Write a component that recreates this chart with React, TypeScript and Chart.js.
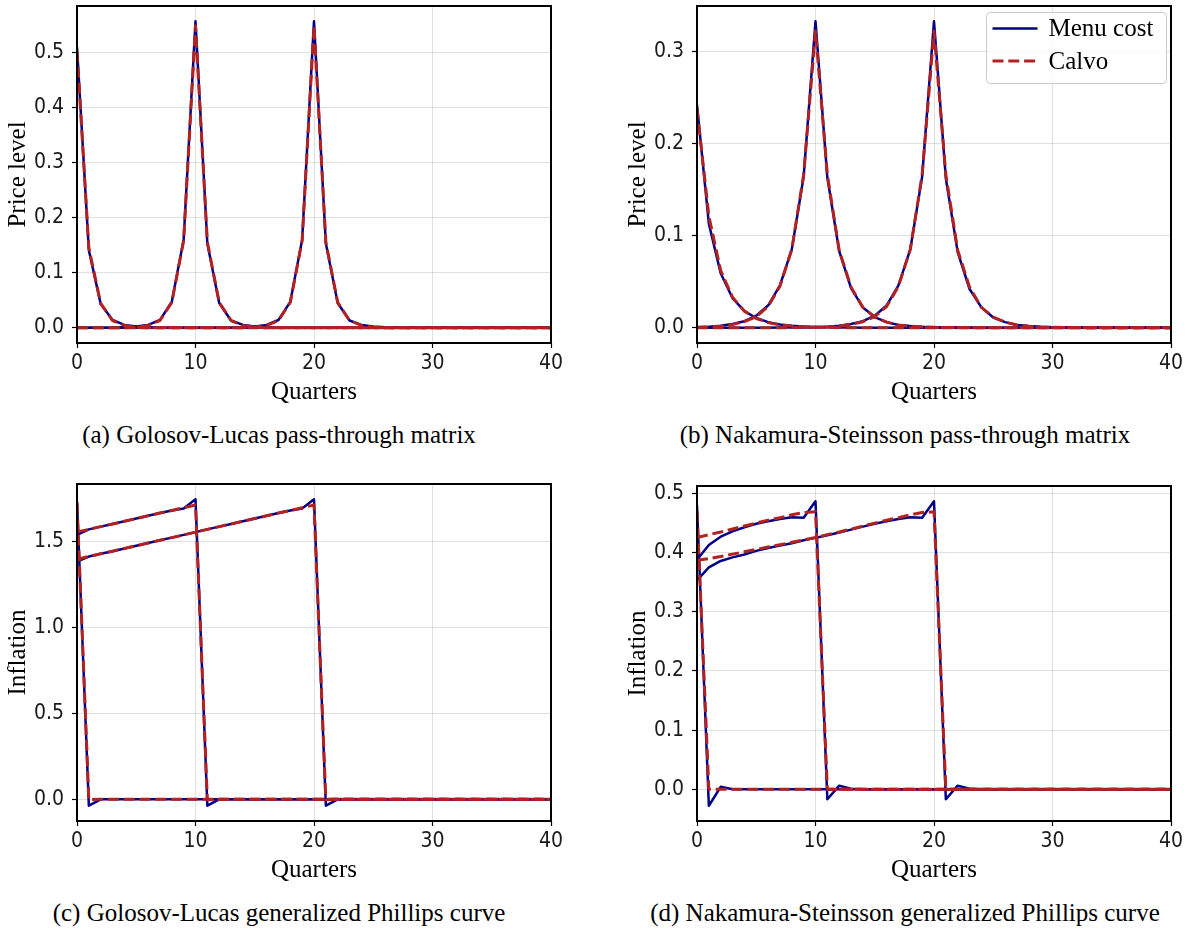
import React, { useEffect, useRef } from 'react';
import { Chart, registerables } from 'chart.js';

Chart.register(...registerables);

// Quarters 0..40
const QUARTERS = [
  0, 1, 2, 3, 4, 5, 6, 7, 8, 9,
  10, 11, 12, 13, 14, 15, 16, 17, 18, 19,
  20, 21, 22, 23, 24, 25, 26, 27, 28, 29,
  30, 31, 32, 33, 34, 35, 36, 37, 38, 39,
  40,
];
const X_TICK_STEP = 10;
const SERIES_LABELS = ['Menu cost', 'Calvo'];

// (a) Golosov-Lucas pass-through matrix — columns for shocks at 0, 10, 20
const GL_PT_MENU_0 = [
  0.510, 0.141, 0.043, 0.014, 0.005, 0.002, 0.001, 0, 0, 0,
  0, 0, 0, 0, 0, 0, 0, 0, 0, 0,
  0, 0, 0, 0, 0, 0, 0, 0, 0, 0,
  0, 0, 0, 0, 0, 0, 0, 0, 0, 0,
  0,
];
const GL_PT_MENU_10 = [
  0, 0, 0, 0, 0.001, 0.002, 0.005, 0.014, 0.047, 0.160,
  0.557, 0.153, 0.045, 0.013, 0.005, 0.002, 0.001, 0, 0, 0,
  0, 0, 0, 0, 0, 0, 0, 0, 0, 0,
  0, 0, 0, 0, 0, 0, 0, 0, 0, 0,
  0,
];
const GL_PT_MENU_20 = [
  0, 0, 0, 0, 0, 0, 0, 0, 0, 0,
  0, 0, 0, 0, 0.001, 0.002, 0.005, 0.014, 0.047, 0.160,
  0.557, 0.153, 0.045, 0.013, 0.005, 0.002, 0.001, 0, 0, 0,
  0, 0, 0, 0, 0, 0, 0, 0, 0, 0,
  0,
];
const GL_PT_CALVO_0 = [
  0.503, 0.145, 0.044, 0.013, 0.004, 0.001, 0, 0, 0, 0,
  0, 0, 0, 0, 0, 0, 0, 0, 0, 0,
  0, 0, 0, 0, 0, 0, 0, 0, 0, 0,
  0, 0, 0, 0, 0, 0, 0, 0, 0, 0,
  0,
];
const GL_PT_CALVO_10 = [
  0, 0, 0, 0, 0, 0.001, 0.004, 0.013, 0.046, 0.158,
  0.549, 0.156, 0.046, 0.013, 0.004, 0.001, 0, 0, 0, 0,
  0, 0, 0, 0, 0, 0, 0, 0, 0, 0,
  0, 0, 0, 0, 0, 0, 0, 0, 0, 0,
  0,
];
const GL_PT_CALVO_20 = [
  0, 0, 0, 0, 0, 0, 0, 0, 0, 0,
  0, 0, 0, 0, 0, 0.001, 0.004, 0.013, 0.046, 0.158,
  0.549, 0.156, 0.046, 0.013, 0.004, 0.001, 0, 0, 0, 0,
  0, 0, 0, 0, 0, 0, 0, 0, 0, 0,
  0,
];

// (b) Nakamura-Steinsson pass-through matrix
const NS_PT_MENU_0 = [
  0.242, 0.113, 0.059, 0.032, 0.018, 0.0105, 0.006, 0.0035, 0.002, 0.0012,
  0.0007, 0.0004, 0.0002, 0.0001, 0, 0, 0, 0, 0, 0,
  0, 0, 0, 0, 0, 0, 0, 0, 0, 0,
  0, 0, 0, 0, 0, 0, 0, 0, 0, 0,
  0,
];
const NS_PT_MENU_10 = [
  0.0005, 0.001, 0.002, 0.004, 0.007, 0.013, 0.024, 0.046, 0.085, 0.164,
  0.3326, 0.163, 0.083, 0.043, 0.022, 0.0115, 0.006, 0.003, 0.0018, 0.001,
  0.0006, 0.0003, 0.0002, 0.0001, 0, 0, 0, 0, 0, 0,
  0, 0, 0, 0, 0, 0, 0, 0, 0, 0,
  0,
];
const NS_PT_MENU_20 = [
  0, 0, 0, 0, 0, 0, 0, 0.0001, 0.0002, 0.0003,
  0.0005, 0.001, 0.002, 0.004, 0.007, 0.013, 0.024, 0.046, 0.085, 0.164,
  0.3326, 0.162, 0.082, 0.042, 0.022, 0.011, 0.006, 0.003, 0.0018, 0.001,
  0.0006, 0.0003, 0.0002, 0.0001, 0, 0, 0, 0, 0, 0,
  0,
];
const NS_PT_CALVO_0 = [
  0.238, 0.121, 0.062, 0.033, 0.018, 0.010, 0.0055, 0.003, 0.0017, 0.001,
  0.0005, 0.0003, 0.0001, 0, 0, 0, 0, 0, 0, 0,
  0, 0, 0, 0, 0, 0, 0, 0, 0, 0,
  0, 0, 0, 0, 0, 0, 0, 0, 0, 0,
  0,
];
const NS_PT_CALVO_10 = [
  0.0004, 0.0008, 0.0016, 0.0035, 0.0065, 0.012, 0.023, 0.045, 0.085, 0.166,
  0.322, 0.166, 0.084, 0.044, 0.022, 0.0115, 0.006, 0.003, 0.0016, 0.0008,
  0.0004, 0.0002, 0.0001, 0, 0, 0, 0, 0, 0, 0,
  0, 0, 0, 0, 0, 0, 0, 0, 0, 0,
  0,
];
const NS_PT_CALVO_20 = [
  0, 0, 0, 0, 0, 0, 0, 0, 0.0001, 0.0002,
  0.0004, 0.0008, 0.0016, 0.0035, 0.0065, 0.012, 0.023, 0.045, 0.085, 0.166,
  0.322, 0.166, 0.084, 0.044, 0.022, 0.0115, 0.006, 0.003, 0.0016, 0.0008,
  0.0004, 0.0002, 0.0001, 0, 0, 0, 0, 0, 0, 0,
  0,
];

// (c) Golosov-Lucas generalized Phillips curve
const GL_PC_MENU_0 = [
  1.733, -0.037, 0, 0, 0, 0, 0, 0, 0, 0,
  0, 0, 0, 0, 0, 0, 0, 0, 0, 0,
  0, 0, 0, 0, 0, 0, 0, 0, 0, 0,
  0, 0, 0, 0, 0, 0, 0, 0, 0, 0,
  0,
];
const GL_PC_MENU_10 = [
  1.539, 1.571, 1.587, 1.602, 1.618, 1.634, 1.650, 1.666, 1.681, 1.692,
  1.746, -0.037, 0, 0, 0, 0, 0, 0, 0, 0,
  0, 0, 0, 0, 0, 0, 0, 0, 0, 0,
  0, 0, 0, 0, 0, 0, 0, 0, 0, 0,
  0,
];
const GL_PC_MENU_20 = [
  1.384, 1.413, 1.429, 1.444, 1.460, 1.476, 1.492, 1.508, 1.523, 1.539,
  1.555, 1.571, 1.587, 1.602, 1.618, 1.634, 1.650, 1.666, 1.681, 1.692,
  1.746, -0.037, 0, 0, 0, 0, 0, 0, 0, 0,
  0, 0, 0, 0, 0, 0, 0, 0, 0, 0,
  0,
];
const GL_PC_CALVO_0 = [
  1.725, -0.002, 0, 0, 0, 0, 0, 0, 0, 0,
  0, 0, 0, 0, 0, 0, 0, 0, 0, 0,
  0, 0, 0, 0, 0, 0, 0, 0, 0, 0,
  0, 0, 0, 0, 0, 0, 0, 0, 0, 0,
  0,
];
const GL_PC_CALVO_10 = [
  1.555, 1.571, 1.587, 1.602, 1.618, 1.634, 1.650, 1.666, 1.681, 1.697,
  1.713, -0.002, 0, 0, 0, 0, 0, 0, 0, 0,
  0, 0, 0, 0, 0, 0, 0, 0, 0, 0,
  0, 0, 0, 0, 0, 0, 0, 0, 0, 0,
  0,
];
const GL_PC_CALVO_20 = [
  1.397, 1.413, 1.429, 1.444, 1.460, 1.476, 1.492, 1.508, 1.523, 1.539,
  1.555, 1.571, 1.587, 1.602, 1.618, 1.634, 1.650, 1.666, 1.681, 1.697,
  1.713, -0.002, 0, 0, 0, 0, 0, 0, 0, 0,
  0, 0, 0, 0, 0, 0, 0, 0, 0, 0,
  0,
];

// (d) Nakamura-Steinsson generalized Phillips curve
const NS_PC_MENU_0 = [
  0.480, -0.028, 0.004, 0, 0, 0, 0, 0, 0, 0,
  0, 0, 0, 0, 0, 0, 0, 0, 0, 0,
  0, 0, 0, 0, 0, 0, 0, 0, 0, 0,
  0, 0, 0, 0, 0, 0, 0, 0, 0, 0,
  0,
];
const NS_PC_MENU_10 = [
  0.388, 0.413, 0.427, 0.436, 0.443, 0.449, 0.453, 0.457, 0.460, 0.459,
  0.487, -0.017, 0.006, 0.001, 0, 0, 0, 0, 0, 0,
  0, 0, 0, 0, 0, 0, 0, 0, 0, 0,
  0, 0, 0, 0, 0, 0, 0, 0, 0, 0,
  0,
];
const NS_PC_MENU_20 = [
  0.353, 0.375, 0.386, 0.392, 0.397, 0.403, 0.408, 0.412, 0.416, 0.421,
  0.425, 0.4295, 0.434, 0.439, 0.444, 0.449, 0.453, 0.457, 0.460, 0.459,
  0.487, -0.017, 0.006, 0.001, 0, 0, 0, 0, 0, 0,
  0, 0, 0, 0, 0, 0, 0, 0, 0, 0,
  0,
];
const NS_PC_CALVO_0 = [
  0.469, 0, 0, 0, 0, 0, 0, 0, 0, 0,
  0, 0, 0, 0, 0, 0, 0, 0, 0, 0,
  0, 0, 0, 0, 0, 0, 0, 0, 0, 0,
  0, 0, 0, 0, 0, 0, 0, 0, 0, 0,
  0,
];
const NS_PC_CALVO_10 = [
  0.4255, 0.4305, 0.435, 0.440, 0.445, 0.450, 0.455, 0.459, 0.464, 0.468,
  0.469, 0, 0, 0, 0, 0, 0, 0, 0, 0,
  0, 0, 0, 0, 0, 0, 0, 0, 0, 0,
  0, 0, 0, 0, 0, 0, 0, 0, 0, 0,
  0,
];
const NS_PC_CALVO_20 = [
  0.387, 0.390, 0.3935, 0.3975, 0.4015, 0.4055, 0.4095, 0.4135, 0.4175, 0.4215,
  0.4255, 0.4305, 0.435, 0.440, 0.445, 0.450, 0.455, 0.459, 0.464, 0.468,
  0.469, 0, 0, 0, 0, 0, 0, 0, 0, 0,
  0, 0, 0, 0, 0, 0, 0, 0, 0, 0,
  0,
];

const MENU_COLOR = '#00008b';
const CALVO_COLOR = '#b22222';
const CALVO_DASH = [11, 4.8];
const SERIF = "'Liberation Serif', 'DejaVu Serif', serif";
const SANS = "'Liberation Sans Narrow', 'DejaVu Sans Condensed', Roboto, sans-serif";

type PanelSpec = {
  key: string;
  left: number;
  top: number;
  width: number;
  height: number;
  padRight: number;
  xAxisHeight: number;
  yLabel: string;
  yStep: number;
  menu: number[][];
  calvo: number[][];
  caption: string;
  captionCenter: number;
  captionTop: number;
  legend?: boolean;
};

const PANELS: PanelSpec[] = [
  {
    key: 'a', left: 0, top: 0, width: 594, height: 410, padRight: 43, xAxisHeight: 67,
    yLabel: 'Price level', yStep: 0.1,
    menu: [GL_PT_MENU_0, GL_PT_MENU_10, GL_PT_MENU_20],
    calvo: [GL_PT_CALVO_0, GL_PT_CALVO_10, GL_PT_CALVO_20],
    caption: '(a) Golosov-Lucas pass-through matrix', captionCenter: 279, captionTop: 420,
  },
  {
    key: 'b', left: 620, top: 0, width: 568, height: 410, padRight: 17, xAxisHeight: 67,
    yLabel: 'Price level', yStep: 0.1,
    menu: [NS_PT_MENU_0, NS_PT_MENU_10, NS_PT_MENU_20],
    calvo: [NS_PT_CALVO_0, NS_PT_CALVO_10, NS_PT_CALVO_20],
    caption: '(b) Nakamura-Steinsson pass-through matrix', captionCenter: 905, captionTop: 420,
    legend: true,
  },
  {
    key: 'c', left: 0, top: 478, width: 594, height: 410, padRight: 43, xAxisHeight: 67,
    yLabel: 'Inflation', yStep: 0.5,
    menu: [GL_PC_MENU_0, GL_PC_MENU_10, GL_PC_MENU_20],
    calvo: [GL_PC_CALVO_0, GL_PC_CALVO_10, GL_PC_CALVO_20],
    caption: '(c) Golosov-Lucas generalized Phillips curve', captionCenter: 279, captionTop: 898,
  },
  {
    key: 'd', left: 620, top: 480, width: 568, height: 408, padRight: 17, xAxisHeight: 67,
    yLabel: 'Inflation', yStep: 0.1,
    menu: [NS_PC_MENU_0, NS_PC_MENU_10, NS_PC_MENU_20],
    calvo: [NS_PC_CALVO_0, NS_PC_CALVO_10, NS_PC_CALVO_20],
    caption: '(d) Nakamura-Steinsson generalized Phillips curve', captionCenter: 905, captionTop: 898,
  },
];

const framePlugin = {
  id: 'axesFrame',
  afterDatasetsDraw(chart: any) {
    const { ctx, chartArea: a } = chart;
    ctx.save();
    ctx.strokeStyle = '#000';
    ctx.lineWidth = 2;
    ctx.strokeRect(a.left, a.top, a.right - a.left, a.bottom - a.top);
    ctx.restore();
  },
};

const boxLegendPlugin = {
  id: 'boxLegend',
  afterDraw(chart: any) {
    const { ctx, chartArea: a } = chart;
    const w = 180;
    const h = 71;
    const x = Math.round(a.right - 5 - w) + 0.5;
    const y = Math.round(a.top + 6) + 0.5;
    ctx.save();
    ctx.beginPath();
    ctx.roundRect(x, y, w, h, 4);
    ctx.fillStyle = 'rgba(255,255,255,0.8)';
    ctx.fill();
    ctx.strokeStyle = '#cccccc';
    ctx.lineWidth = 1;
    ctx.stroke();
    const items = [
      { label: SERIES_LABELS[0], color: MENU_COLOR, width: 2.5, dash: [] as number[] },
      { label: SERIES_LABELS[1], color: CALVO_COLOR, width: 3, dash: CALVO_DASH },
    ];
    items.forEach((it, i) => {
      const cy = y + 16 + i * 32.5;
      ctx.beginPath();
      ctx.moveTo(x + 6, cy);
      ctx.lineTo(x + 51, cy);
      ctx.strokeStyle = it.color;
      ctx.lineWidth = it.width;
      ctx.setLineDash(it.dash);
      ctx.stroke();
      ctx.setLineDash([]);
      ctx.fillStyle = '#000';
      ctx.font = `25px ${SERIF}`;
      ctx.textBaseline = 'middle';
      ctx.textAlign = 'left';
      ctx.fillText(it.label, x + 62, cy + 1);
    });
    ctx.restore();
  },
};

function buildConfig(spec: PanelSpec): any {
  const all = [...spec.menu.flat(), ...spec.calvo.flat()];
  const lo = Math.min(...all);
  const hi = Math.max(...all);
  const margin = (hi - lo) * 0.05;
  const toPoints = (ys: number[]) => ys.map((y, i) => ({ x: QUARTERS[i], y }));
  const datasets = [
    ...spec.calvo.map((ys, i) => ({
      label: SERIES_LABELS[1] + (i ? ` ${i}` : ''),
      data: toPoints(ys),
      borderColor: CALVO_COLOR,
      borderWidth: 3,
      borderDash: CALVO_DASH,
      borderJoinStyle: 'round',
      pointRadius: 0,
      fill: false,
      tension: 0,
    })),
    ...spec.menu.map((ys, i) => ({
      label: SERIES_LABELS[0] + (i ? ` ${i}` : ''),
      data: toPoints(ys),
      borderColor: MENU_COLOR,
      borderWidth: 2.5,
      borderJoinStyle: 'round',
      pointRadius: 0,
      fill: false,
      tension: 0,
    })),
  ];
  const grid = {
    color: 'rgba(0,0,0,0.12)',
    lineWidth: 1,
    drawTicks: true,
    tickLength: 5,
    tickColor: '#000',
    tickWidth: 1.2,
  };
  const tickFont = { family: SANS, size: 21 };
  const titleFont = { family: SERIF, size: 25 };
  return {
    type: 'line',
    data: { datasets },
    options: {
      animation: false,
      responsive: false,
      devicePixelRatio: 1,
      layout: { padding: { left: 0, top: 6, right: spec.padRight, bottom: 0 } },
      plugins: { legend: { display: false }, tooltip: { enabled: false } },
      elements: { point: { radius: 0 } },
      scales: {
        x: {
          type: 'linear',
          min: QUARTERS[0],
          max: QUARTERS[QUARTERS.length - 1],
          ticks: { stepSize: X_TICK_STEP, font: tickFont, color: '#1a1a1a', padding: 3, maxRotation: 0 },
          grid,
          border: { display: false },
          title: { display: true, text: 'Quarters', font: titleFont, color: '#000', padding: { top: 0, bottom: 3 } },
          afterFit: (s: any) => {
            s.height = spec.xAxisHeight;
            s.paddingLeft = 0;
            s.paddingRight = 0;
          },
        },
        y: {
          type: 'linear',
          min: lo - margin,
          max: hi + margin,
          ticks: {
            stepSize: spec.yStep,
            includeBounds: false,
            font: tickFont,
            color: '#1a1a1a',
            padding: 8,
            callback: (v: number) => Number(v).toFixed(1),
          },
          grid,
          border: { display: false },
          title: { display: true, text: spec.yLabel, font: titleFont, color: '#000', padding: { top: 3, bottom: 0 } },
          afterFit: (s: any) => {
            s.width = 77;
            s.paddingTop = 0;
            s.paddingBottom = 0;
          },
        },
      },
    },
    plugins: spec.legend ? [framePlugin, boxLegendPlugin] : [framePlugin],
  };
}

function Panel({ spec }: { spec: PanelSpec }) {
  const ref = useRef<HTMLCanvasElement>(null);
  useEffect(() => {
    const chart = new Chart(ref.current as HTMLCanvasElement, buildConfig(spec));
    return () => chart.destroy();
  }, [spec]);
  return (
    <>
      <canvas
        ref={ref}
        width={spec.width}
        height={spec.height}
        style={{ position: 'absolute', left: spec.left, top: spec.top, width: spec.width, height: spec.height }}
      />
      <div
        style={{
          position: 'absolute',
          left: spec.captionCenter - 300,
          width: 600,
          top: spec.captionTop,
          textAlign: 'center',
          fontFamily: SERIF,
          fontSize: 25,
          lineHeight: '30px',
          whiteSpace: 'nowrap',
          color: '#000',
        }}
      >
        {spec.caption}
      </div>
    </>
  );
}

export default function App() {
  return (
    <div style={{ position: 'absolute', left: 0, top: 0, width: 1188, height: 930, background: '#fff', overflow: 'hidden' }}>
      {PANELS.map((p) => (
        <Panel key={p.key} spec={p} />
      ))}
    </div>
  );
}
